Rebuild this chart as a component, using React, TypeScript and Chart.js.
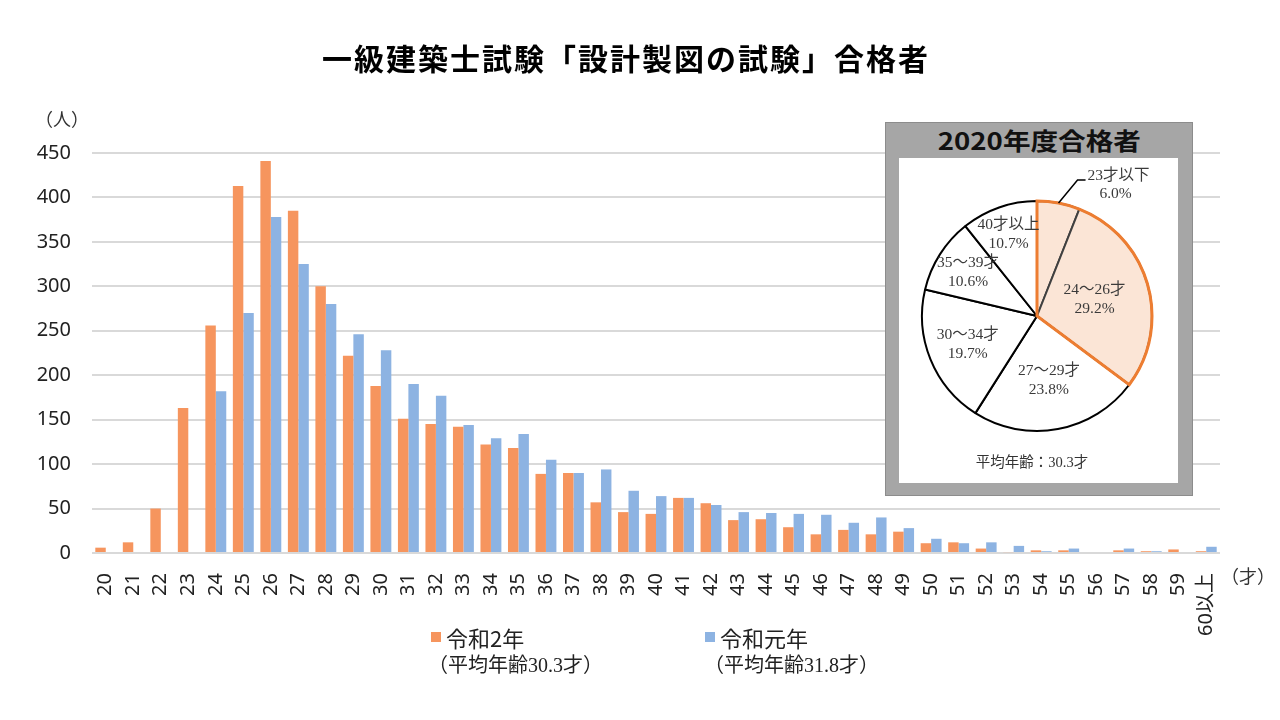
import React, { useEffect, useRef } from 'react';
import { Chart, registerables } from 'chart.js';

Chart.register(...registerables);

// ---------- data ----------
const ageLabels = [
  '20', '21', '22', '23', '24', '25', '26', '27', '28', '29',
  '30', '31', '32', '33', '34', '35', '36', '37', '38', '39',
  '40', '41', '42', '43', '44', '45', '46', '47', '48', '49',
  '50', '51', '52', '53', '54', '55', '56', '57', '58', '59', '60以上',
];
// 令和2年 (2020)
const reiwa2 = [
  6, 12, 50, 163, 256, 413, 441, 385, 300, 222,
  188, 151, 145, 142, 122, 118, 89, 90, 57, 46,
  44, 62, 56, 37, 38, 29, 21, 26, 21, 24,
  11, 12, 5, 1, 3, 3, 0, 3, 2, 4, 2,
];
// 令和元年 (2019)
const reiwa1 = [
  0, 0, 0, 0, 182, 270, 378, 325, 280, 246,
  228, 190, 177, 144, 129, 134, 105, 90, 94, 70,
  64, 62, 54, 46, 45, 44, 43, 34, 40, 28,
  16, 11, 12, 8, 2, 5, 0, 5, 2, 0, 7,
];
const Y_MIN = 0;
const Y_MAX = 450;
const Y_STEP = 50;

const pieLabels = ['23才以下', '24～26才', '27～29才', '30～34才', '35～39才', '40才以上'];
const pieValues = [6.0, 29.2, 23.8, 19.7, 10.6, 10.7];
const highlightCount = 2; // first two slices highlighted

// ---------- styles ----------
const ORANGE = '#F6955E';
const BLUE = '#8DB3E2';
const HILITE_FILL = '#FBE5D6';
const HILITE_LINE = '#ED7D31';
const SANS = '"Noto Sans", "Noto Sans CJK JP", sans-serif';
const CJK = '"Noto Sans CJK JP", sans-serif';
const SERIF = '"Liberation Serif", "Noto Sans CJK JP", serif';
const pieLabelRadius = [0, 0.52, 0.57, 0.65, 0.71, 0.75];

const pieDecor = {
  id: 'pieDecor',
  afterDatasetsDraw(chart: any) {
    const ctx = chart.ctx;
    const meta = chart.getDatasetMeta(0);
    const arcs = meta.data;
    const a0 = arcs[0];
    const aEnd = arcs[highlightCount - 1];
    ctx.save();
    // orange outline around highlighted sector
    ctx.beginPath();
    ctx.moveTo(a0.x, a0.y);
    ctx.arc(a0.x, a0.y, a0.outerRadius, a0.startAngle, aEnd.endAngle);
    ctx.closePath();
    ctx.lineWidth = 3;
    ctx.strokeStyle = HILITE_LINE;
    ctx.lineJoin = 'miter';
    ctx.stroke();

    ctx.fillStyle = '#3a3a3a';
    ctx.font = '15.5px ' + SERIF;
    ctx.textBaseline = 'middle';
    arcs.forEach((arc: any, i: number) => {
      const mid = (arc.startAngle + arc.endAngle) / 2;
      const pct = pieValues[i].toFixed(1) + '%';
      if (i === 0) {
        const px = arc.x + Math.cos(mid) * arc.outerRadius;
        const py = arc.y + Math.sin(mid) * arc.outerRadius;
        const qx = px + 19;
        const qy = py - 23;
        ctx.beginPath();
        ctx.moveTo(px, py);
        ctx.lineTo(qx, qy);
        ctx.lineTo(qx + 8, qy);
        ctx.strokeStyle = '#000';
        ctx.lineWidth = 1.5;
        ctx.stroke();
        ctx.textAlign = 'left';
        ctx.fillText(pieLabels[i], qx + 10, qy - 4);
        ctx.textAlign = 'center';
        ctx.fillText(pct, qx + 38, qy + 14);
      } else {
        const r = arc.outerRadius * pieLabelRadius[i];
        const tx = arc.x + Math.cos(mid) * r;
        const ty = arc.y + Math.sin(mid) * r;
        ctx.textAlign = 'center';
        ctx.fillText(pieLabels[i], tx, ty - 9.5);
        ctx.fillText(pct, tx, ty + 9.5);
      }
    });
    ctx.restore();
  },
};

export default function App() {
  const barRef = useRef<HTMLCanvasElement>(null);
  const pieRef = useRef<HTMLCanvasElement>(null);

  useEffect(() => {
    const bar = new Chart(barRef.current as HTMLCanvasElement, {
      type: 'bar',
      data: {
        labels: ageLabels,
        datasets: [
          { label: '令和2年', data: reiwa2, backgroundColor: ORANGE, categoryPercentage: 0.76, barPercentage: 1 },
          { label: '令和元年', data: reiwa1, backgroundColor: BLUE, categoryPercentage: 0.76, barPercentage: 1 },
        ],
      },
      options: {
        responsive: false,
        animation: false,
        layout: { padding: { top: 153, right: 60, left: 0, bottom: 0 } },
        plugins: { legend: { display: false }, tooltip: { enabled: false }, title: { display: false } },
        scales: {
          x: {
            grid: { display: false },
            border: { display: false },
            ticks: {
              autoSkip: false,
              maxRotation: 90,
              minRotation: 90,
              padding: 12,
              color: '#222',
              font: { family: SANS, size: 20 },
            },
            afterFit: (s: any) => { s.height = 167; },
          },
          y: {
            min: Y_MIN,
            max: Y_MAX,
            ticks: { stepSize: Y_STEP, padding: 21, color: '#222', font: { family: SANS, size: 20 } },
            grid: { color: '#d9d9d9', lineWidth: 2, drawTicks: false },
            border: { display: false },
            afterFit: (s: any) => { s.width = 92; },
          },
        },
      },
    } as any);

    const pie = new Chart(pieRef.current as HTMLCanvasElement, {
      type: 'pie',
      data: {
        labels: pieLabels,
        datasets: [{
          data: pieValues,
          backgroundColor: pieValues.map((_, i) => (i < highlightCount ? HILITE_FILL : '#ffffff')),
          borderColor: pieValues.map((_, i) => (i < highlightCount ? '#404040' : '#000000')),
          borderWidth: 2,
        }],
      },
      options: {
        responsive: false,
        animation: false,
        layout: { padding: { left: 22, right: 26, top: 42, bottom: 51 } },
        plugins: { legend: { display: false }, tooltip: { enabled: false } },
      },
      plugins: [pieDecor],
    } as any);

    return () => { bar.destroy(); pie.destroy(); };
  }, []);

  const abs = (l: number, t: number, extra: any = {}) => ({ position: 'absolute' as const, left: l, top: t, whiteSpace: 'nowrap' as const, ...extra });

  return (
    <div style={{ position: 'absolute', left: 0, top: 0, width: 1280, height: 720, background: '#fff', overflow: 'hidden', fontFamily: CJK }}>
      <canvas ref={barRef} width={1280} height={720} style={{ position: 'absolute', left: 0, top: 0, width: 1280, height: 720 }} />

      {/* title */}
      <div style={abs(0, 38, { width: 1252, textAlign: 'center', fontSize: 30, fontWeight: 700, letterSpacing: 2, lineHeight: '38px', color: '#000' })}>
        一級建築士試験「設計製図の試験」合格者
      </div>

      {/* axis units */}
      <div style={abs(35, 109, { fontSize: 18, lineHeight: '22px', color: '#333', fontFamily: SERIF })}>（人）</div>
      <div style={abs(1221, 566, { fontSize: 18, lineHeight: '22px', color: '#333', fontFamily: SERIF })}>（才）</div>

      {/* legend */}
      <div style={abs(431, 632, { width: 10, height: 10, background: ORANGE })} />
      <div style={abs(446, 623, { fontSize: 22, lineHeight: '28px', color: '#222' })}>令和2年</div>
      <div style={abs(428, 652, { fontSize: 20, lineHeight: '26px', color: '#222', fontFamily: SERIF })}>（平均年齢30.3才）</div>

      <div style={abs(705, 632, { width: 10, height: 10, background: BLUE })} />
      <div style={abs(720, 623, { fontSize: 22, lineHeight: '28px', color: '#222' })}>令和元年</div>
      <div style={abs(704, 652, { fontSize: 20, lineHeight: '26px', color: '#222', fontFamily: SERIF })}>（平均年齢31.8才）</div>

      {/* inset */}
      <div style={abs(885, 122, { width: 306, height: 372, background: '#a6a6a6', border: '1px solid #8c8c8c' })} />
      <div style={abs(885, 124, { width: 308, textAlign: 'center', fontSize: 24, fontWeight: 700, lineHeight: '32px', color: '#111' })}>
        <span style={{ display: 'inline-block', transform: 'scaleX(1.15)' }}>2020年度合格者</span>
      </div>
      <div style={abs(899, 158, { width: 279, height: 325, background: '#fff' })} />
      <canvas ref={pieRef} width={280} height={325} style={{ position: 'absolute', left: 899, top: 158, width: 280, height: 325 }} />
      <div style={abs(899, 452, { width: 266, textAlign: 'center', fontSize: 14.5, lineHeight: '20px', color: '#333', fontFamily: SERIF })}>
        平均年齢：30.3才
      </div>
    </div>
  );
}
